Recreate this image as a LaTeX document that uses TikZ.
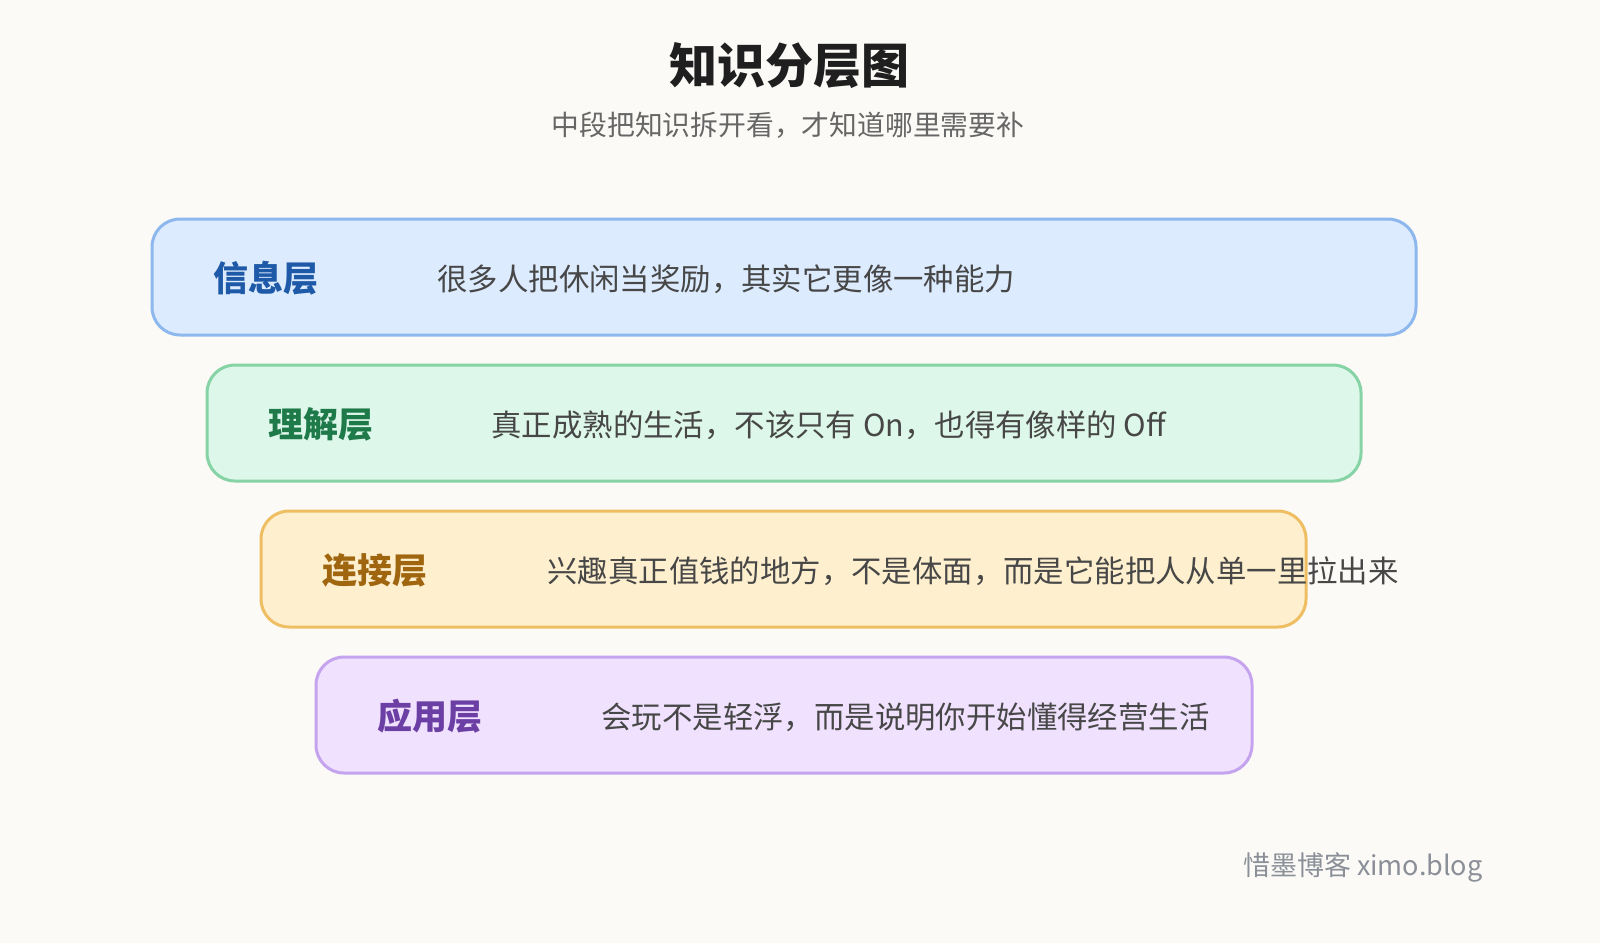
\documentclass[tikz,border=0pt]{standalone}
\usepackage{fontspec}
\setmainfont{Noto Sans CJK SC}
\definecolor{bg}{HTML}{FBFAF6}
\begin{document}
\begin{tikzpicture}[x=1pt,y=-1pt,
  layer/.style={draw, line width=3pt, rounded corners=28pt},
  lab/.style={anchor=west, font=\fontsize{35}{40}\selectfont\bfseries},
  txt/.style={anchor=west, text=black!72, font=\fontsize{30.4}{34}\selectfont}]
\fill[bg] (0,0) rectangle (1600,943);
\draw[layer, draw={rgb,255:red,141;green,184;blue,238}, fill={rgb,255:red,220;green,235;blue,254}] (152,219) rectangle (1416,335);
\draw[layer, draw={rgb,255:red,134;green,211;blue,166}, fill={rgb,255:red,221;green,247;blue,234}] (207,365) rectangle (1361,481);
\draw[layer, draw={rgb,255:red,239;green,190;blue,98}, fill={rgb,255:red,254;green,240;blue,207}] (261,511) rectangle (1306,627);
\draw[layer, draw={rgb,255:red,197;green,163;blue,238}, fill={rgb,255:red,240;green,226;blue,254}] (316,657) rectangle (1252,773);
\node[font=\fontsize{48}{54}\selectfont\bfseries, text=black!88] (title) at (789,66) {知识分层图};
\node[font=\fontsize{27.8}{32}\selectfont, text=black!60] (sub) at (788,125) {中段把知识拆开看，才知道哪里需要补};
\node[lab, text={rgb,255:red,30;green,90;blue,168}] (l1) at (210,278) {信息层};
\node[txt] (t1) at (434,279) {很多人把休闲当奖励，其实它更像一种能力};
\node[lab, text={rgb,255:red,31;green,122;blue,74}] (l2) at (265,424) {理解层};
\node[txt] (t2) at (488,425) {真正成熟的生活，不该只有 On，也得有像样的 Off};
\node[lab, text={rgb,255:red,160;green,102;blue,15}] (l3) at (319,570) {连接层};
\node[txt] (t3) at (544,571) {兴趣真正值钱的地方，不是体面，而是它能把人从单一里拉出来};
\node[lab, text={rgb,255:red,108;green,63;blue,165}] (l4) at (374,716) {应用层};
\node[txt] (t4) at (598,717) {会玩不是轻浮，而是说明你开始懂得经营生活};
\node[anchor=east, text={rgb,255:red,138;green,143;blue,152}, font=\fontsize{27}{31}\selectfont] (wm) at (1486,867) {惜墨博客 ximo.blog};
\pgfresetboundingbox
\useasboundingbox (0,0) rectangle (1600,943);
\end{tikzpicture}
\end{document}
